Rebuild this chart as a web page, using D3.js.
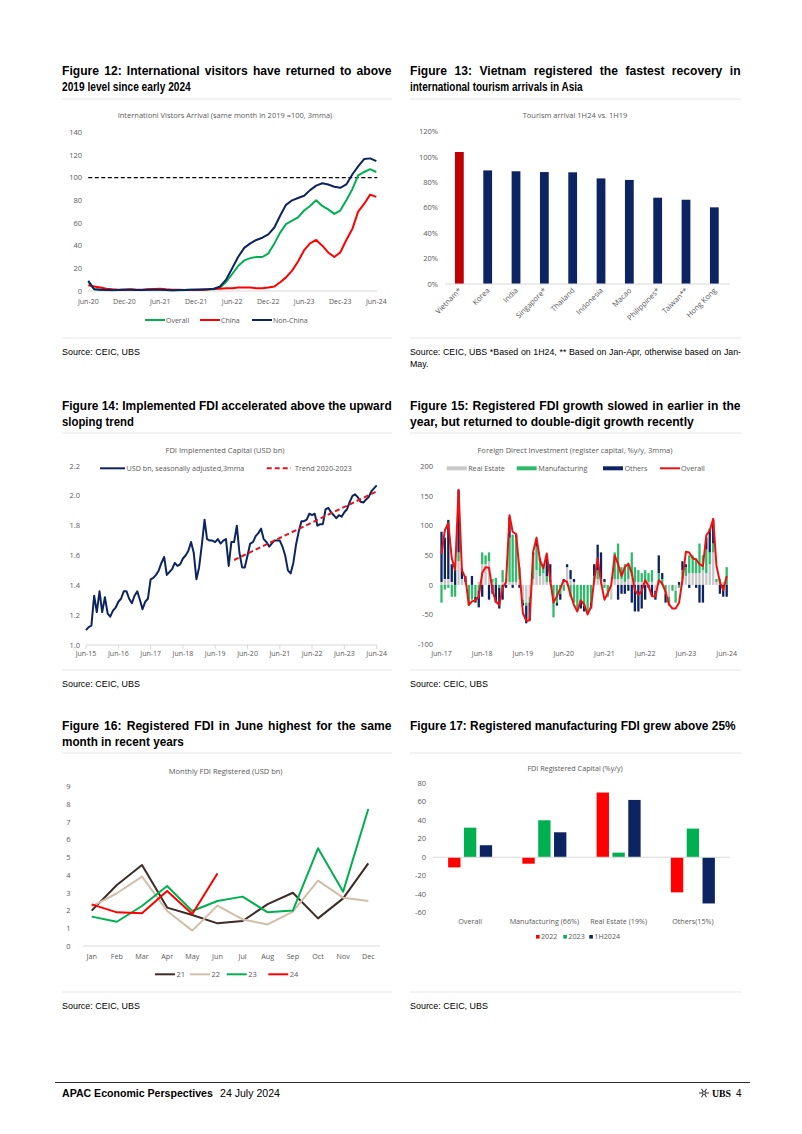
<!DOCTYPE html>
<html><head><meta charset="utf-8">
<script src="https://cdn.jsdelivr.net/npm/d3@7"></script>
<style>
body{margin:0;background:#fff;}
svg{display:block;}
</style></head><body><svg id="page" width="802" height="1134"></svg>
<script>
// ---------- DATA ----------
// Figure 12
const visitorTicks = ["Jun-20","Dec-20","Jun-21","Dec-21","Jun-22","Dec-22","Jun-23","Dec-23","Jun-24"];
const visitorsOverall = [8,1.5,1.2,0.8,0.7,0.8,1,1.2,0.9,0.8,1,1.1,1,0.8,0.6,0.7,0.8,1,1,1.2,1.5,1.5,3,8,15,22,27,29,30,30,33,42,52,59,62,65,71,75,80,75,72,68,71,80,90,102,105,107.5,105];
const visitorsChina = [5,4,3,2,1.5,1.2,1,1.5,1,1.2,1.5,1.8,2,1.5,1.2,1,0.8,0.8,1,1.2,1.5,2,2,2.5,2.5,3,3,3,2.5,2.5,3,4,8,12,18,26,36,42,45,40,34,30,34,45,55,70,77,85,83];
const visitorsNonChina = [9,1.5,1.2,0.9,0.8,0.9,1,1.1,0.9,0.8,1,1.2,1,0.9,0.7,0.8,0.9,1,1.1,1.3,1.6,2,4,10,20,30,38,42,45,47,50,56,67,76,80,82,84,89,93,95,94,92,91,94,103,110,116.5,117,114.5];
// Figure 13
const countries = ["Vietnam*","Korea","India","Singapore*","Thailand","Indonesia","Macao","Philippines*","Taiwan**","Hong Kong"];
const arrivalsPct = [104,89.5,88.8,88.2,88,83.2,82,68,66.4,60.4];
// Figure 14
const implTicks = ["Jun-15","Jun-16","Jun-17","Jun-18","Jun-19","Jun-20","Jun-21","Jun-22","Jun-23","Jun-24"];
const fdiImplemented = [1.10,1.12,1.13,1.33,1.22,1.36,1.22,1.32,1.21,1.19,1.23,1.25,1.29,1.31,1.36,1.36,1.31,1.28,1.33,1.36,1.30,1.24,1.29,1.31,1.44,1.45,1.47,1.50,1.55,1.59,1.47,1.49,1.51,1.55,1.53,1.54,1.58,1.60,1.63,1.69,1.62,1.44,1.52,1.67,1.84,1.71,1.70,1.70,1.69,1.71,1.68,1.70,1.71,1.53,1.69,1.69,1.80,1.62,1.52,1.52,1.60,1.68,1.69,1.73,1.75,1.78,1.71,1.69,1.66,1.68,1.70,1.70,1.70,1.66,1.60,1.50,1.48,1.55,1.67,1.76,1.83,1.83,1.84,1.88,1.87,1.88,1.80,1.81,1.81,1.91,1.92,1.89,1.87,1.85,1.87,1.86,1.89,1.91,1.96,2.00,2.01,1.99,1.96,1.955,1.975,1.99,2.03,2.05,2.07];
const trendDates = ["2020-01","2024-06"];
const trendValues = [1.57,2.03];
// Figure 15
const regTicks = ["Jun-17","Jun-18","Jun-19","Jun-20","Jun-21","Jun-22","Jun-23","Jun-24"];
const regRealEstate = [5,10,10,5,0,40,10,5,0,0,0,5,35,35,40,5,0,0,5,5,5,5,5,10,-25,-30,-20,10,25,15,20,5,5,0,0,0,5,30,10,5,0,0,0,0,0,5,10,5,5,0,-25,10,10,10,5,10,15,5,5,5,5,5,5,-10,5,0,0,-20,0,-10,0,10,15,20,20,20,20,25,20,35,55,5,0,5,0];
const regManufacturing = [-30,-8,-5,-20,-20,15,0,0,-35,-25,-20,-10,20,15,15,5,12,-5,20,5,75,80,75,20,-5,-5,-10,40,40,25,15,10,0,-55,-30,-15,-10,0,-20,-30,-40,-25,-35,-45,-30,10,15,5,-5,-20,0,45,60,20,30,25,40,25,20,15,20,15,20,0,15,10,-15,-15,-10,-20,-5,15,15,30,30,25,50,25,40,20,15,5,10,0,30];
const regOthers = [85,70,100,30,25,105,18,10,0,15,-10,-28,-20,0,-25,-15,-30,-35,-25,-5,35,-5,5,-5,-5,-30,-30,5,10,5,0,35,30,0,-5,-10,5,5,15,5,0,-15,-10,0,-10,20,43,45,5,0,0,0,-25,-15,-15,-10,-30,-45,-45,-40,-25,-5,-20,-15,30,10,-15,0,0,0,5,15,5,-5,0,-5,-30,-30,20,40,40,0,-15,-20,-20];
const regOverall = [53,92,105,45,25,161,25,12,-34,-28,-26,-20,20,30,29,-9,-28,-34,-5,5,118,90,86,25,-48,-61,-60,56,80,42,28,53,8,-30,-19,-6,8,5,-17,-34,-45,-26,-33,-50,-37,8,45,5,-25,-14,0,50,35,15,30,36,20,-9,-17,-10,8,-2,-19,-20,8,2,-12,-33,-40,-40,-30,8,56,55,45,43,35,32,84,92,112,33,5,-9,15];
// Figure 16
const monthNames = ["Jan","Feb","Mar","Apr","May","Jun","Jul","Aug","Sep","Oct","Nov","Dec"];
const fdi21 = [2.0,3.45,4.58,2.17,1.75,1.28,1.41,2.37,3.01,1.56,2.69,4.67];
const fdi22 = [2.22,2.98,3.92,1.98,0.87,2.28,1.5,1.22,1.94,3.69,2.73,2.54];
const fdi23 = [1.66,1.37,2.26,3.39,1.98,2.54,2.79,1.9,2.0,5.52,3.07,7.74];
const fdi24 = [2.35,1.9,1.85,3.11,1.81,4.1];
// Figure 17
const capCats = ["Overall","Manufacturing (66%)","Real Estate (19%)","Others(15%)"];
const cap2022 = [-11,-7,70,-38];
const cap2023 = [32,40,5,31];
const cap1H2024 = [13,27,62,-50];

// ---------- STYLE ----------
const svg = d3.select("#page");
const GRAY = "#595959", NAVY = "#0c2461", GREEN = "#00b050", RED = "#ff0000";
const CF = '"Open Sans", "Noto Sans", sans-serif';
const HF = '"Liberation Sans",Arial,sans-serif';

function txt(x, y, s, o = {}) {
  const t = svg.append("text").attr("x", x).attr("y", y).text(s)
    .attr("font-family", o.family || CF).attr("font-size", o.size || 7.2)
    .attr("fill", o.fill || GRAY).attr("text-anchor", o.anchor || "start");
  if (o.weight) t.attr("font-weight", o.weight);
  if (o.len) t.attr("textLength", o.len).attr("lengthAdjust", "spacingAndGlyphs");
  return t;
}
// condensed text: glyph width squeezed; either fitted to a width (fit) or
// justified to a width (justify: glyph squeeze sq, the rest spread between words)
function ctxt(x, y, s, o = {}) {
  const t = svg.append("text").attr("x", 0).attr("y", 0).text(s)
    .attr("font-family", HF).attr("font-size", o.size || 12.5)
    .attr("fill", o.fill || "#000");
  if (o.weight) t.attr("font-weight", o.weight);
  const natural = t.node().getComputedTextLength();
  let sq = o.sq || 0.9;
  if (o.fit) sq = o.fit / natural;
  if (o.justify) {
    sq = Math.min(sq, o.justify / natural);
    const gaps = (s.match(/ /g) || []).length;
    const extra = (o.justify / sq - natural) / gaps;
    if (extra > 0) t.attr("word-spacing", extra);
  }
  t.attr("transform", `translate(${x},${y}) scale(${sq},1)`);
  return t;
}
function heading(x, y, lines, width, lastWidth) {
  lines.forEach((s, k) => {
    const last = k === lines.length - 1;
    ctxt(x, y + k * 16.5, s, last ? {weight: "bold", fit: lastWidth} : {weight: "bold", sq: 0.97, justify: width});
  });
}
function rule(x1, x2, y, c = "#e6e6e6") {
  svg.append("line").attr("x1", x1).attr("x2", x2).attr("y1", y).attr("y2", y).attr("stroke", c).attr("stroke-width", 1);
}
function yAxis(scale, ticks, xr, fmt, anchor = "end") {
  svg.append("g").selectAll("text").data(ticks).join("text")
    .attr("x", xr).attr("y", d => scale(d) + 2.6).text(fmt)
    .attr("font-family", CF).attr("font-size", 7.5).attr("fill", GRAY).attr("text-anchor", anchor);
}
function month(base, i) { return d3.timeMonth.offset(base, i); }
const parseYM = d3.timeParse("%Y-%m");
const parseTick = d3.timeParse("%b-%y");

// ---------- HEADINGS / SOURCES ----------
heading(62, 74.5, ["Figure 12: International visitors have returned to above", "2019 level since early 2024"], 330, 129);
heading(410, 74.5, ["Figure 13: Vietnam registered the fastest recovery in", "international tourism arrivals in Asia"], 331, 173);
heading(62, 409.5, ["Figure 14: Implemented FDI accelerated above the upward", "sloping trend"], 330, 72);
heading(410, 409.5, ["Figure 15: Registered FDI growth slowed in earlier in the", "year, but returned to double-digit growth recently"], 331, 284);
heading(62, 729.5, ["Figure 16: Registered FDI in June highest for the same", "month in recent years"], 330, 122);
heading(410, 729.5, ["Figure 17: Registered manufacturing FDI grew above 25%"], 331, 326);

[[62,392,99,338],[410,741,99,338],[62,392,433,670],[410,741,433,670],[62,392,753,992],[410,741,753,992]]
  .forEach(([a,b,t,bt]) => { rule(a,b,t); rule(a,b,bt); });

const SRC = {size: 8.8};
ctxt(62, 355, "Source: CEIC, UBS", {...SRC, fit: 78});
ctxt(410, 355, "Source: CEIC, UBS *Based on 1H24, ** Based on Jan-Apr, otherwise based on Jan-", {...SRC, sq: 1.0, justify: 331});
ctxt(410, 367, "May.", {...SRC, sq: 1.0});
ctxt(62, 687, "Source: CEIC, UBS", {...SRC, fit: 78});
ctxt(410, 687, "Source: CEIC, UBS", {...SRC, fit: 78});
ctxt(62, 1009, "Source: CEIC, UBS", {...SRC, fit: 78});
ctxt(410, 1009, "Source: CEIC, UBS", {...SRC, fit: 78});

// ---------- FIGURE 12 ----------
{
  const start = parseYM("2020-06");
  const x = d3.scaleTime().domain([start, month(start, 48)]).range([88.3, 376.3]);
  const y = d3.scaleLinear().domain([0, 140]).range([291, 132.3]);
  txt(225, 117.5, "Internationl Vistors Arrival (same month in 2019 =100, 3mma)", {anchor: "middle", size: 7.5});
  yAxis(y, d3.range(0, 141, 20), 82, d => d);
  rule(88, 377, 291, "#d9d9d9");
  visitorTicks.forEach(s => txt(x(parseTick(s)), 304, s, {anchor: "middle", size: 7}));
  svg.append("line").attr("x1", x(start)).attr("x2", x(month(start, 48)) + 1).attr("y1", y(100)).attr("y2", y(100))
    .attr("stroke", "#000").attr("stroke-width", 1.3).attr("stroke-dasharray", "4,2.5");
  const line = d3.line().x((d, i) => x(month(start, i))).y(d => y(d));
  [[visitorsOverall, GREEN], [visitorsChina, RED], [visitorsNonChina, NAVY]].forEach(([d, c]) =>
    svg.append("path").attr("d", line(d)).attr("fill", "none").attr("stroke", c).attr("stroke-width", 2).attr("stroke-linejoin", "round"));
  [["Overall", GREEN, 145], ["China", RED, 200], ["Non-China", NAVY, 252]].forEach(([s, c, lx]) => {
    svg.append("line").attr("x1", lx).attr("x2", lx + 20).attr("y1", 320).attr("y2", 320).attr("stroke", c).attr("stroke-width", 2);
    txt(lx + 21, 322.5, s, {size: 7});
  });
}

// ---------- FIGURE 13 ----------
{
  const x = d3.scaleBand().domain(countries).range([445.2, 728.5]).paddingInner(0.69).paddingOuter(0.345);
  const y = d3.scaleLinear().domain([0, 120]).range([284, 131.7]);
  txt(575, 117.5, "Tourism arrival 1H24 vs. 1H19", {anchor: "middle", size: 7.5});
  yAxis(y, d3.range(0, 121, 20), 438, d => d + "%");
  svg.selectAll(".b13").data(countries).join("rect")
    .attr("x", d => x(d)).attr("width", x.bandwidth())
    .attr("y", (d, i) => y(arrivalsPct[i])).attr("height", (d, i) => y(0) - y(arrivalsPct[i]))
    .attr("fill", (d, i) => i === 0 ? "#c00000" : NAVY);
  rule(445, 730, 284, "#d9d9d9");
  countries.forEach(c => {
    const cx = x(c) + x.bandwidth() / 2 + 2.5;
    txt(0, 0, c, {anchor: "end", size: 7.5}).attr("transform", `translate(${cx},${291}) rotate(-45)`);
  });
}

// ---------- FIGURE 14 ----------
{
  const start = parseYM("2015-06");
  const x = d3.scaleTime().domain([start, month(start, 108)]).range([86, 376.7]);
  const y = d3.scaleLinear().domain([1.0, 2.2]).range([645, 466]);
  txt(225, 452.5, "FDI Implemented Capital (USD bn)", {anchor: "middle", size: 7.5});
  yAxis(y, d3.range(0, 7).map(k => 1 + k * 0.2), 80, d3.format(".1f"));
  rule(86, 377, 645, "#d9d9d9");
  implTicks.forEach(s => {
    const xx = x(parseTick(s));
    svg.append("line").attr("x1", xx).attr("x2", xx).attr("y1", 645).attr("y2", 649).attr("stroke", "#d9d9d9");
    txt(xx, 656, s, {anchor: "middle", size: 7});
  });
  const line = d3.line().x((d, i) => x(month(start, i))).y(d => y(d));
  svg.append("path").attr("d", line(fdiImplemented)).attr("fill", "none").attr("stroke", NAVY).attr("stroke-width", 2).attr("stroke-linejoin", "round");
  const tl = d3.line().x((d, i) => x(parseYM(trendDates[i]))).y(d => y(d));
  svg.append("path").attr("d", tl(trendValues)).attr("fill", "none").attr("stroke", "#e8141b").attr("stroke-width", 2).attr("stroke-dasharray", "5,3");
  svg.append("line").attr("x1", 100).attr("x2", 125).attr("y1", 468.3).attr("y2", 468.3).attr("stroke", NAVY).attr("stroke-width", 2);
  txt(126.5, 470.8, "USD bn, seasonally adjusted,3mma", {size: 7.2});
  svg.append("line").attr("x1", 266.7).attr("x2", 291).attr("y1", 468.3).attr("y2", 468.3).attr("stroke", "#e8141b").attr("stroke-width", 2).attr("stroke-dasharray", "5,3");
  txt(295, 470.8, "Trend 2020-2023", {size: 7.2});
}

// ---------- FIGURE 15 ----------
{
  const start = parseYM("2017-06");
  const x = d3.scaleTime().domain([start, month(start, 84)]).range([441.5, 726.7]);
  const y = d3.scaleLinear().domain([-100, 200]).range([644, 466.7]);
  txt(575, 452.5, "Foreign Direct Investment (register capital, %y/y, 3mma)", {anchor: "middle", size: 7.5});
  yAxis(y, d3.range(-100, 201, 50), 433, d => d);
  regTicks.forEach(s => txt(x(parseTick(s)), 656, s, {anchor: "middle", size: 7}));
  const rows = regOverall.map((d, i) => ({i, re: regRealEstate[i], mf: regManufacturing[i], ot: regOthers[i]}));
  const keys = ["re", "mf", "ot"];
  const colors = {re: "#c8c8c8", mf: "#2dbb6b", ot: NAVY};
  const stack = d3.stack().keys(keys).offset(d3.stackOffsetDiverging)(rows);
  const bw = 2.3;
  stack.forEach(layer => {
    svg.append("g").selectAll("rect").data(layer).join("rect")
      .attr("x", d => x(month(start, d.data.i)) - bw / 2).attr("width", bw)
      .attr("y", d => y(Math.max(d[0], d[1]))).attr("height", d => Math.abs(y(d[0]) - y(d[1])))
      .attr("fill", colors[layer.key]);
  });
  const line = d3.line().x((d, i) => x(month(start, i))).y(d => y(d));
  svg.append("path").attr("d", line(regOverall)).attr("fill", "none").attr("stroke", "#f01010").attr("stroke-width", 2).attr("stroke-linejoin", "round");
  [["Real Estate", "#c8c8c8", 446.7], ["Manufacturing", "#2dbb6b", 516.7], ["Others", NAVY, 603]].forEach(([s, c, lx]) => {
    svg.append("rect").attr("x", lx).attr("y", 466.3).attr("width", 20).attr("height", 4).attr("fill", c);
    txt(lx + 21.5, 470.8, s, {size: 7.2});
  });
  svg.append("line").attr("x1", 660).attr("x2", 680).attr("y1", 468.3).attr("y2", 468.3).attr("stroke", "#f01010").attr("stroke-width", 2);
  txt(681, 470.8, "Overall", {size: 7.2});
}

// ---------- FIGURE 16 ----------
{
  const x = d3.scalePoint().domain(monthNames).range([91.7, 368.3]);
  const y = d3.scaleLinear().domain([0, 9]).range([946, 786.7]);
  txt(225.7, 773.5, "Monthly FDI Registered (USD bn)", {anchor: "middle", size: 7.5});
  yAxis(y, d3.range(0, 10), 68.5, d => d, "middle");
  rule(83, 380, 946, "#d9d9d9");
  monthNames.forEach(m => txt(x(m), 958.5, m, {anchor: "middle", size: 7.2}));
  const line = d3.line().x((d, i) => x(monthNames[i])).y(d => y(d));
  const series = [[fdi21, "#3d2b26", "21", 155], [fdi22, "#d0bfa8", "22", 190], [fdi23, GREEN, "23", 226.7], [fdi24, RED, "24", 268.3]];
  series.forEach(([d, c]) => svg.append("path").attr("d", line(d)).attr("fill", "none").attr("stroke", c).attr("stroke-width", 2).attr("stroke-linejoin", "round"));
  series.forEach(([d, c, s, lx]) => {
    svg.append("line").attr("x1", lx).attr("x2", lx + 20).attr("y1", 974.3).attr("y2", 974.3).attr("stroke", c).attr("stroke-width", 2);
    txt(lx + 21.5, 977, s, {size: 7.5});
  });
}

// ---------- FIGURE 17 ----------
{
  const x = d3.scaleBand().domain(capCats).range([433, 730]);
  const sub = d3.scaleBand().domain(["2022", "2023", "1H2024"]).range([-22, 22]).paddingInner(0.22);
  const y = d3.scaleLinear().domain([-60, 80]).range([912.7, 783.3]);
  txt(575, 770.5, "FDI Registered Capital (%y/y)", {anchor: "middle", size: 7.2});
  yAxis(y, d3.range(-60, 81, 20), 426, d => d);
  const sets = [["2022", cap2022, RED], ["2023", cap2023, GREEN], ["1H2024", cap1H2024, NAVY]];
  sets.forEach(([k, vals, c]) => {
    svg.append("g").selectAll("rect").data(capCats).join("rect")
      .attr("x", (d) => x(d) + x.bandwidth() / 2 + sub(k)).attr("width", sub.bandwidth())
      .attr("y", (d, i) => y(Math.max(0, vals[i]))).attr("height", (d, i) => Math.abs(y(vals[i]) - y(0)))
      .attr("fill", c);
  });
  rule(433, 730, y(0), "#d9d9d9");
  capCats.forEach(c => txt(x(c) + x.bandwidth() / 2, 924.3, c, {anchor: "middle", size: 7.2}));
  [["2022", RED, 536], ["2023", GREEN, 563.3], ["1H2024", NAVY, 589.3]].forEach(([s, c, lx]) => {
    svg.append("rect").attr("x", lx).attr("y", 935).attr("width", 3.6).attr("height", 3.6).attr("fill", c);
    txt(lx + 5, 939.3, s, {size: 7.2});
  });
}

// ---------- FOOTER ----------
rule(55, 750, 1082.5, "#333");
ctxt(62, 1097, "APAC Economic Perspectives", {weight: "bold", size: 11, fit: 151});
ctxt(220, 1097, "24 July 2024", {size: 11, fit: 60});
{
  const g = svg.append("g").attr("transform", "translate(704,1093)").attr("stroke", "#444").attr("stroke-width", 1.1);
  [0, 60, 120].forEach(a => g.append("line").attr("x1", -5).attr("x2", 5).attr("y1", 0).attr("y2", 0).attr("transform", `rotate(${a})`));
  g.append("circle").attr("r", 1.5).attr("fill", "#fff");
}
txt(712, 1097, "UBS", {family: '"Liberation Serif",serif', weight: "bold", size: 11, fill: "#000", len: 19});
ctxt(736, 1097, "4", {size: 11, sq: 0.9});
</script></body></html>
